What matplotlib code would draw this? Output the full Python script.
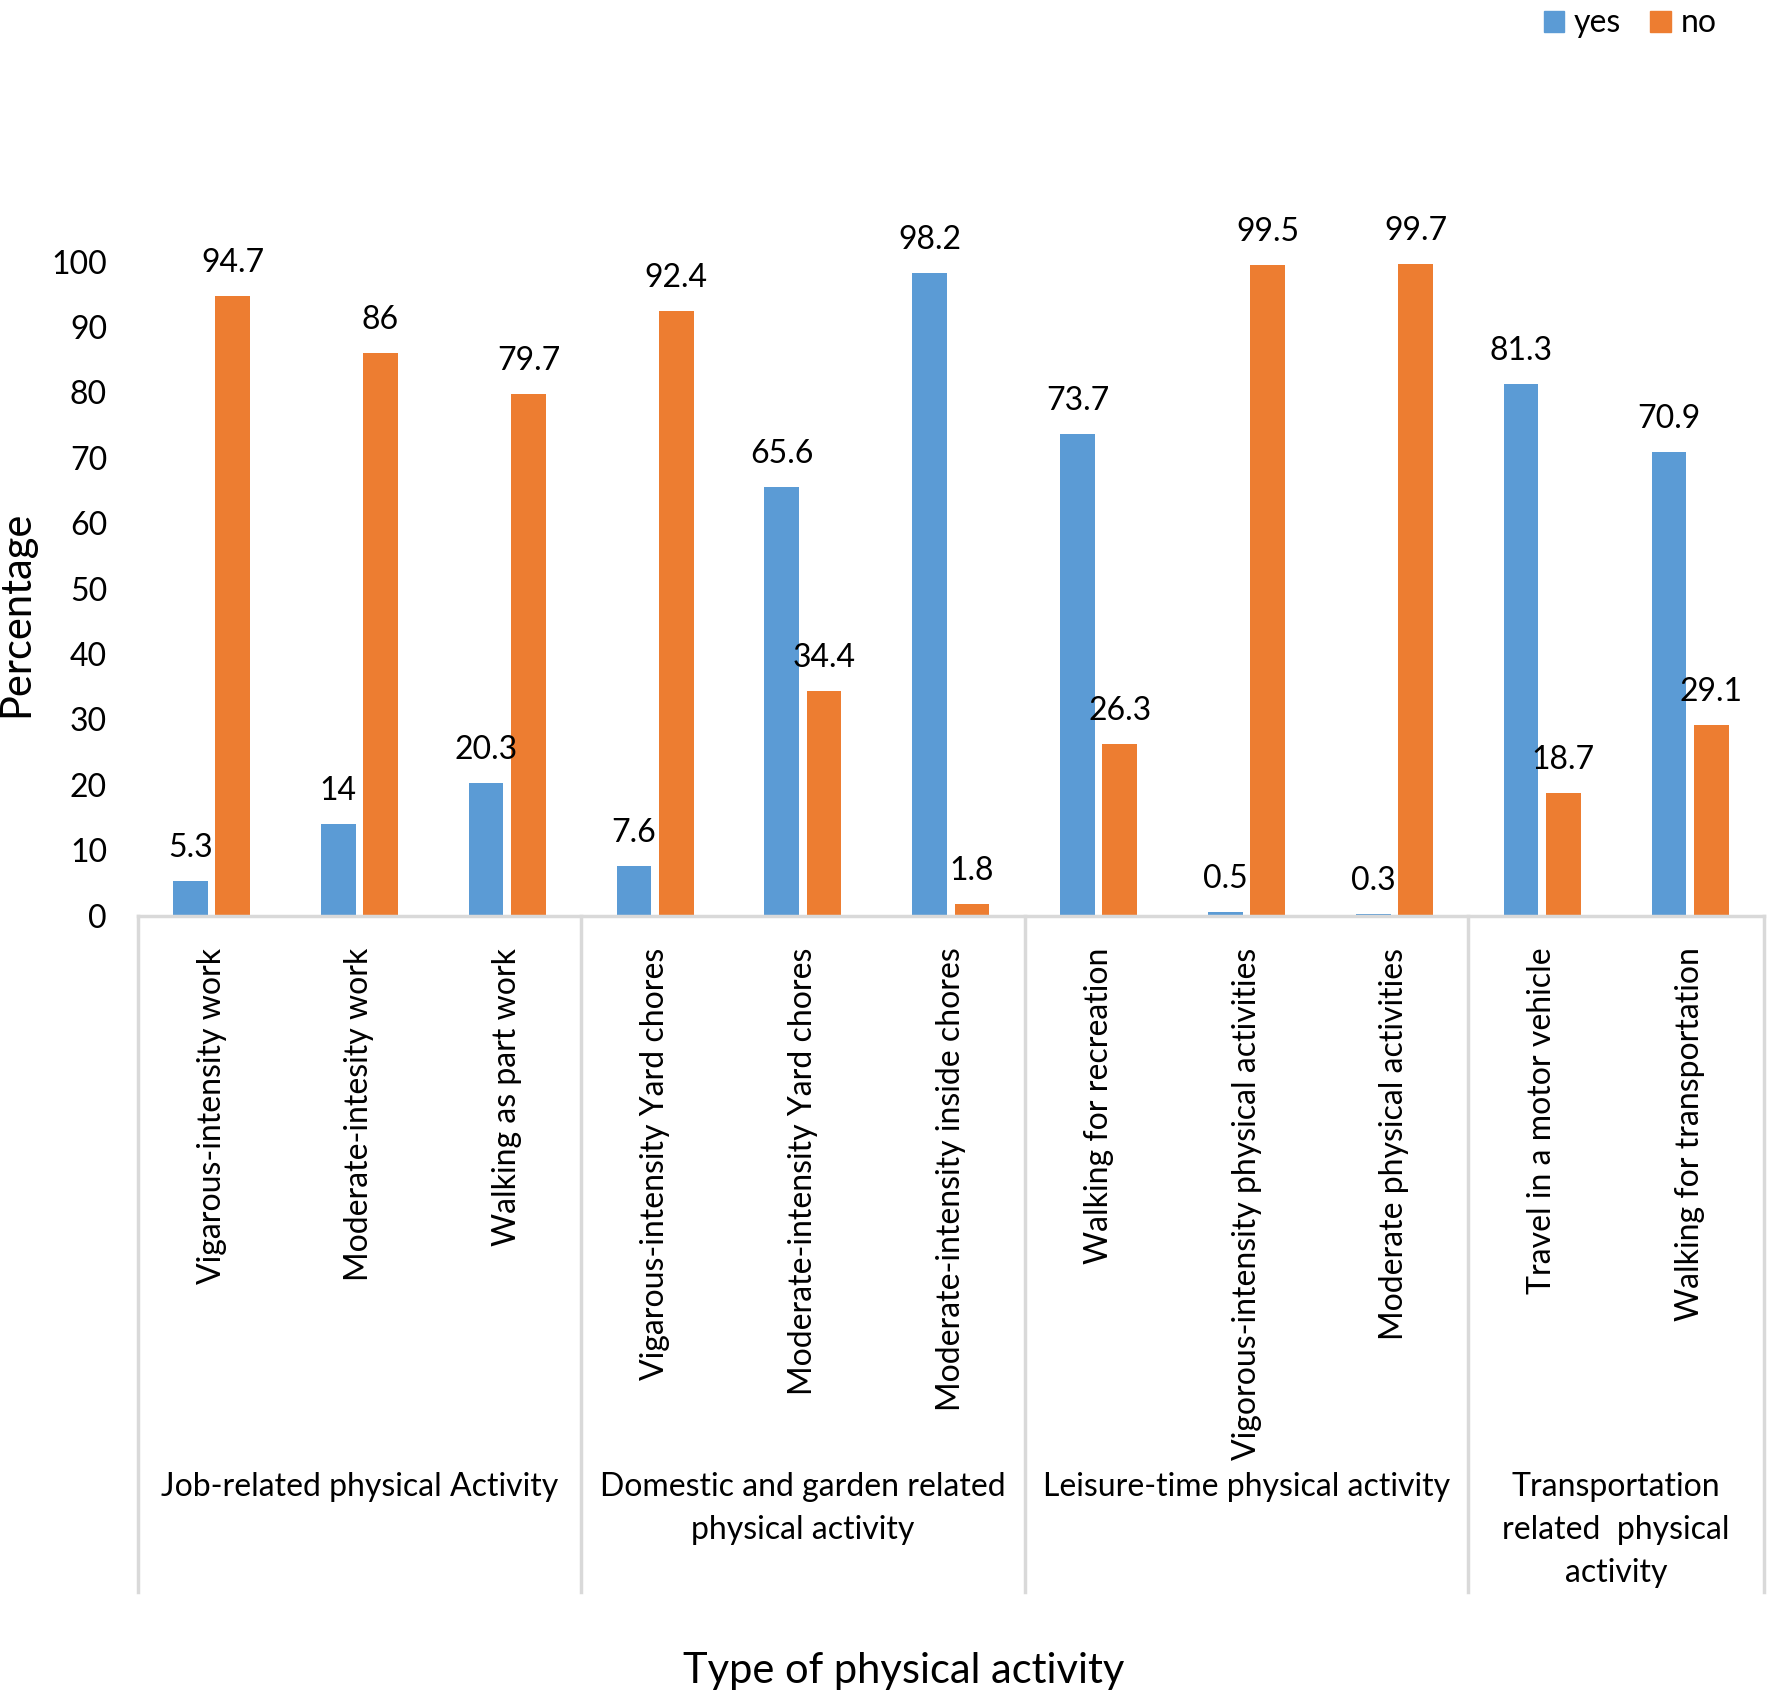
import numpy as np
import matplotlib
matplotlib.use("Agg")
import matplotlib.pyplot as plt
from matplotlib.lines import Line2D
from matplotlib.patches import Patch

plt.rcParams['font.family'] = ['Lato', 'DejaVu Sans']

BLUE = "#5B9BD5"
ORANGE = "#ED7D31"
GRID = "#D9D9D9"

activities = [
    "Vigarous-intensity work", "Moderate-intesity work", "Walking as part work",
    "Vigarous-intensity Yard chores", "Moderate-intensity Yard chores",
    "Moderate-intensity inside chores",
    "Walking for recreation", "Vigorous-intensity physical activities",
    "Moderate physical activities",
    "Travel in a motor vehicle", "Walking for transportation",
]
yes_pct = [5.3, 14, 20.3, 7.6, 65.6, 98.2, 73.7, 0.5, 0.3, 81.3, 70.9]
no_pct = [94.7, 86, 79.7, 92.4, 34.4, 1.8, 26.3, 99.5, 99.7, 18.7, 29.1]
group_names = [
    "Job-related physical Activity",
    "Domestic and garden related\nphysical activity",
    "Leisure-time physical activity",
    "Transportation\nrelated  physical\nactivity",
]
group_sizes = [3, 3, 3, 2]

FS = 23

W, H = 1768, 1697
fig = plt.figure(figsize=(W / 100, H / 100), dpi=100)
ax = fig.add_axes([137.6 / W, 1 - 915.6 / H, (1764 - 137.6) / W, (915.6 - 261.6) / H])

x = np.arange(len(activities))
bw = 0.235
off = 0.143
b1 = ax.bar(x - off, yes_pct, bw, color=BLUE, label="yes")
b2 = ax.bar(x + off, no_pct, bw, color=ORANGE, label="no")

def fmt(v):
    return ("%g" % v)

for bars, vals in [(b1, yes_pct), (b2, no_pct)]:
    for r, v in zip(bars, vals):
        ax.annotate(fmt(v), (r.get_x() + r.get_width() / 2, v), xytext=(0, 13),
                    textcoords="offset points", ha="center", va="bottom",
                    fontsize=FS, annotation_clip=False)

ax.set_xlim(-0.5, len(activities) - 0.5)
ax.set_ylim(0, 100)
ax.set_yticks(range(0, 101, 10))
ax.tick_params(axis="y", length=0, labelsize=FS, pad=22)
ax.set_xticks([])
for s in ["top", "right", "left"]:
    ax.spines[s].set_visible(False)
ax.spines["bottom"].set_color(GRID)
ax.spines["bottom"].set_linewidth(2.5)

axh = (915.6 - 261.6)
trans = ax.get_xaxis_transform()
for i, name in enumerate(activities):
    ax.text(i, -32 / axh, name, rotation=90, ha="center", va="top",
            fontsize=FS, transform=trans)

# group dividers and labels
edges = np.concatenate([[0], np.cumsum(group_sizes)]) - 0.5
for e in edges:
    ax.add_line(Line2D([e, e], [0, -(1592 - 915.6) / axh], transform=trans,
                       color=GRID, lw=2.5, clip_on=False))
for gi, gname in enumerate(group_names):
    cx = (edges[gi] + edges[gi + 1]) / 2
    ax.text(cx, -(1472 - 915.6) / axh, gname, ha="center", va="top",
            fontsize=FS, linespacing=1.55, transform=trans)

fig.text(16 / W, 1 - 614 / H, "Percentage", rotation=90, ha="center",
         va="center", fontsize=30)
fig.text(904 / W, 1 - 1671 / H, "Type of physical activity", ha="center",
         va="center", fontsize=30)

handles = [Patch(color=BLUE, label="yes"), Patch(color=ORANGE, label="no")]
fig.legend(handles=handles, loc="upper right", bbox_to_anchor=(0.987, 1.012),
           ncol=2, frameon=False, fontsize=FS, handlelength=0.65,
           handleheight=0.65, handletextpad=0.3, columnspacing=0.9)

fig.savefig("out.png", dpi=100)
